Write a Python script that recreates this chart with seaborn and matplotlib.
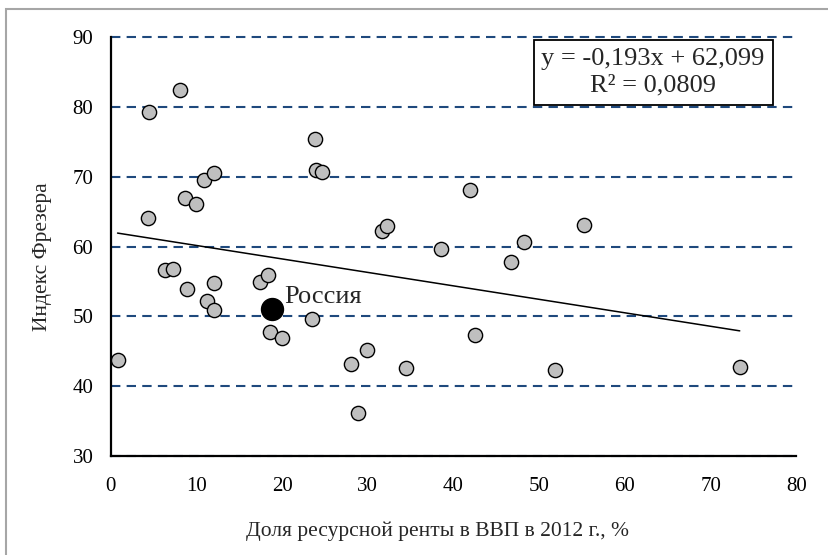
"""
Resource rent share vs. Fraser index scatter, with the linear trend
and its equation box. Saves out.png (829x555).
"""

import numpy as np
import pandas as pd
import matplotlib
matplotlib.use("Agg")
import matplotlib.pyplot as plt
import matplotlib.patches as mpatches
import seaborn as sns

# ---------------------------------------------------------------------------
# data
# ---------------------------------------------------------------------------

RENT_SHARE = [4.5, 8.1, 23.8, 24.0, 24.6, 4.4, 8.7, 9.9, 10.9, 12.0, 31.7, 32.2,
              6.3, 7.3, 8.9, 12.0, 11.2, 12.0, 17.4, 18.3, 18.6, 20.0, 23.5,
              0.8, 28.0, 29.9, 28.9, 34.5,
              41.9, 38.5, 48.2, 46.7, 55.2, 42.5, 51.9, 73.4]
FRASER_INDEX = [79.3, 82.5, 75.4, 71.0, 70.7, 64.1, 66.9, 66.1, 69.6, 70.5, 62.3, 63.0,
                56.6, 56.8, 54.0, 54.8, 52.2, 50.9, 55.0, 55.9, 47.8, 46.9, 49.6,
                43.7, 43.2, 45.2, 36.1, 42.6,
                68.1, 59.7, 60.6, 57.8, 63.1, 47.3, 42.3, 42.7]

RUSSIA_X = [18.8]
RUSSIA_Y = [51.0]
RUSSIA_LABEL = "Россия"

SLOPE = -0.193
INTERCEPT = 62.099
EQUATION = "y = -0,193x + 62,099\nR² = 0,0809"

X_TICKS = [0, 10, 20, 30, 40, 50, 60, 70, 80]
Y_TICKS = [30, 40, 50, 60, 70, 80, 90]

X_LABEL = "Доля ресурсной ренты в ВВП в 2012 г., %"
Y_LABEL = "Индекс Фрезера"

GRID_BLUE = "#1F497D"
POINT_GREY = "#BFBFBF"

W, H = 829, 555


def main(out_path: str = "out.png") -> None:
    sns.set_style("white")
    plt.rcParams["font.family"] = ["Liberation Serif", "DejaVu Serif"]

    fig = plt.figure(figsize=(W / 100, H / 100), dpi=100)
    ax = fig.add_axes([110.7 / W, (H - 456) / H, 685.6 / W, 418.7 / H])

    df = pd.DataFrame({"x": RENT_SHARE, "y": FRASER_INDEX})
    sns.scatterplot(data=df, x="x", y="y", s=105, color=POINT_GREY,
                    edgecolor="black", linewidth=1.0, zorder=4, ax=ax)

    # trend line from the reported equation, over the data range
    all_x = np.array(RENT_SHARE + RUSSIA_X)
    line_x = np.array([all_x.min(), all_x.max()])
    ax.plot(line_x, INTERCEPT + SLOPE * line_x, color="black", lw=1.1, zorder=3)

    sns.scatterplot(x=RUSSIA_X, y=RUSSIA_Y, s=250, color="black",
                    edgecolor="black", linewidth=1.0, zorder=5, ax=ax)
    ax.annotate(RUSSIA_LABEL, (RUSSIA_X[0], RUSSIA_Y[0]), xytext=(9, 9),
                textcoords="offset points", ha="left", va="center",
                fontsize=19, zorder=6)

    ax.set_xlim(X_TICKS[0], X_TICKS[-1])
    ax.set_ylim(Y_TICKS[0], Y_TICKS[-1])
    ax.set_xticks(X_TICKS)
    ax.set_yticks(Y_TICKS)
    ax.tick_params(axis="both", direction="out", length=5, width=1.5,
                   labelsize=15, colors="black")
    ax.tick_params(axis="x", pad=10)
    ax.tick_params(axis="y", pad=7.5)
    ax.set_xlabel("")
    ax.set_ylabel("")

    for side in ("top", "right"):
        ax.spines[side].set_visible(False)
    for side in ("left", "bottom"):
        ax.spines[side].set_color("black")
        ax.spines[side].set_linewidth(1.6)
        ax.spines[side].set_zorder(7)

    ax.yaxis.grid(True, color=GRID_BLUE, lw=1.5, dashes=(4.5, 3))
    ax.xaxis.grid(False)
    for gl in ax.get_ygridlines():
        gl.set_clip_on(False)
    ax.set_axisbelow(True)

    # equation box
    ax.text(63.3, 85.0, EQUATION, ha="center", va="center", fontsize=19,
            multialignment="center", linespacing=1.3, zorder=8,
            bbox=dict(boxstyle="square,pad=0.3", fc="white", ec="black", lw=1.3))

    fig.text(437 / W, 1 - 531 / H, X_LABEL, ha="center", va="center", fontsize=15.5)
    fig.text(43 / W, 1 - 256.7 / H, Y_LABEL, ha="center", va="center",
             rotation=90, fontsize=15.5)

    # chart-area frame (cut off on the right and bottom)
    fig.patches.append(mpatches.Rectangle(
        (6 / W, -0.1), 1.2, 1.1 - 8.5 / H, transform=fig.transFigure,
        fill=False, ec="#A6A6A6", lw=1.5))

    fig.savefig(out_path, dpi=100)
    plt.close(fig)


if __name__ == "__main__":
    main()
